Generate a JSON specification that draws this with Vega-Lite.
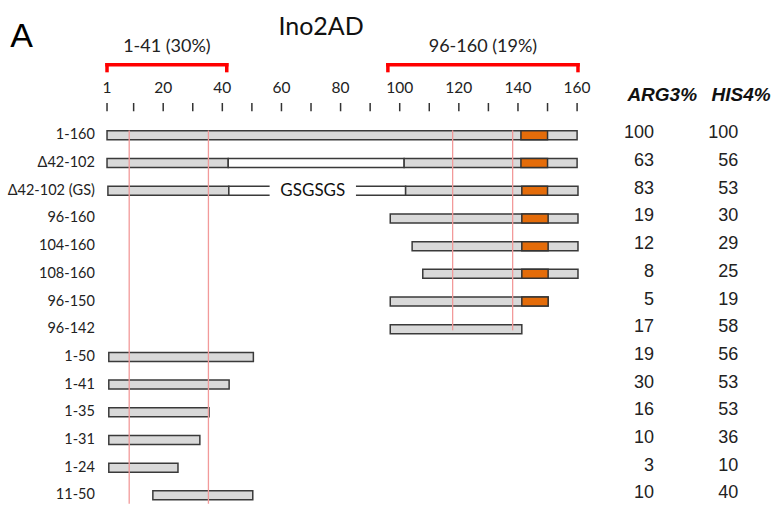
{
  "$schema": "https://vega.github.io/schema/vega-lite/v6.json",
  "width": 774,
  "height": 505,
  "autosize": {"type": "fit", "contains": "padding"},
  "padding": 0,
  "background": "white",
  "config": {"view": {"stroke": null}},
  "datasets": {
    "constructs": [
      {"row": 0, "label": "1-160", "arg3": 100, "his4": 100},
      {"row": 1, "label": "Δ42-102", "arg3": 63, "his4": 56},
      {"row": 2, "label": "Δ42-102 (GS)", "arg3": 83, "his4": 53},
      {"row": 3, "label": "96-160", "arg3": 19, "his4": 30},
      {"row": 4, "label": "104-160", "arg3": 12, "his4": 29},
      {"row": 5, "label": "108-160", "arg3": 8, "his4": 25},
      {"row": 6, "label": "96-150", "arg3": 5, "his4": 19},
      {"row": 7, "label": "96-142", "arg3": 17, "his4": 58},
      {"row": 8, "label": "1-50", "arg3": 19, "his4": 56},
      {"row": 9, "label": "1-41", "arg3": 30, "his4": 53},
      {"row": 10, "label": "1-35", "arg3": 16, "his4": 53},
      {"row": 11, "label": "1-31", "arg3": 10, "his4": 36},
      {"row": 12, "label": "1-24", "arg3": 3, "his4": 10},
      {"row": 13, "label": "11-50", "arg3": 10, "his4": 40}
    ],
    "segments": [
      {"row": 0, "start": 1, "end": 160, "kind": "gray"},
      {"row": 0, "start": 141, "end": 150, "kind": "tad"},
      {"row": 1, "start": 1, "end": 42, "kind": "gray"},
      {"row": 1, "start": 42, "end": 101.5, "kind": "white"},
      {"row": 1, "start": 101.5, "end": 160, "kind": "gray"},
      {"row": 1, "start": 141, "end": 150, "kind": "tad"},
      {"row": 2, "start": 1.3, "end": 42.2, "kind": "gray"},
      {"row": 2, "start": 42.2, "end": 102, "kind": "white"},
      {"row": 2, "start": 56, "end": 85.2, "kind": "mask"},
      {"row": 2, "start": 102, "end": 160.3, "kind": "gray"},
      {"row": 2, "start": 141.3, "end": 150, "kind": "tad"},
      {"row": 3, "start": 96.8, "end": 160.3, "kind": "gray"},
      {"row": 3, "start": 141.3, "end": 150.2, "kind": "tad"},
      {"row": 4, "start": 104.2, "end": 160.3, "kind": "gray"},
      {"row": 4, "start": 141.3, "end": 150.2, "kind": "tad"},
      {"row": 5, "start": 107.8, "end": 160.3, "kind": "gray"},
      {"row": 5, "start": 141.3, "end": 150.2, "kind": "tad"},
      {"row": 6, "start": 96.8, "end": 150.2, "kind": "gray"},
      {"row": 6, "start": 141.3, "end": 150.2, "kind": "tad"},
      {"row": 7, "start": 96.8, "end": 141.3, "kind": "gray"},
      {"row": 8, "start": 1.6, "end": 50.5, "kind": "gray"},
      {"row": 9, "start": 1.6, "end": 42.3, "kind": "gray"},
      {"row": 10, "start": 1.6, "end": 35.5, "kind": "gray"},
      {"row": 11, "start": 1.6, "end": 32.4, "kind": "gray"},
      {"row": 12, "start": 1.6, "end": 25, "kind": "gray"},
      {"row": 13, "start": 16.5, "end": 50.3, "kind": "gray"}
    ],
    "guides": [
      {"pos": 8.5, "fromRow": -0.18, "toRow": 13.3},
      {"pos": 35.3, "fromRow": -0.18, "toRow": 13.3},
      {"pos": 117.9, "fromRow": -0.18, "toRow": 7.04},
      {"pos": 138.2, "fromRow": -0.18, "toRow": 7.04}
    ],
    "ticks": [
      {"v": 1}, {"v": 10}, {"v": 20}, {"v": 30}, {"v": 40}, {"v": 50}, {"v": 60}, {"v": 70}, {"v": 80},
      {"v": 90}, {"v": 100}, {"v": 110}, {"v": 120}, {"v": 130}, {"v": 140}, {"v": 150}, {"v": 160}
    ],
    "ticklabels": [
      {"v": 1}, {"v": 20}, {"v": 40}, {"v": 60}, {"v": 80}, {"v": 100}, {"v": 120}, {"v": 140}, {"v": 160}
    ],
    "brackets": [
      {"label": "1-41 (30%)", "start": 1, "end": 41.5},
      {"label": "96-160 (19%)", "start": 96, "end": 160.3}
    ],
    "one": [{}]
  },
  "layer": [
    {
      "data": {"name": "segments"},
      "transform": [{"filter": "datum.kind == 'gray' || datum.kind == 'white'"}],
      "mark": {"type": "bar", "size": 9, "stroke": "#3a3a3a", "strokeWidth": 1.5},
      "encoding": {
        "x": {"field": "start", "type": "quantitative", "scale": {"domain": [-35.2, 226.6], "nice": false, "zero": false}, "axis": null},
        "x2": {"field": "end"},
        "y": {"field": "row", "type": "quantitative", "scale": {"domain": [-4.708, 13.168], "nice": false, "zero": false, "reverse": true}, "axis": null},
        "color": {"field": "kind", "type": "nominal", "scale": {"domain": ["gray", "white"], "range": ["#d9d9d9", "#ffffff"]}, "legend": null}
      }
    },
    {
      "data": {"name": "segments"},
      "transform": [{"filter": "datum.kind == 'mask'"}],
      "mark": {"type": "bar", "size": 14, "color": "#ffffff"},
      "encoding": {
        "x": {"field": "start", "type": "quantitative"},
        "x2": {"field": "end"},
        "y": {"field": "row", "type": "quantitative"}
      }
    },
    {
      "data": {"name": "segments"},
      "transform": [{"filter": "datum.kind == 'tad'"}],
      "mark": {"type": "bar", "size": 9, "color": "#e46c0a", "stroke": "#333333", "strokeWidth": 1.5},
      "encoding": {
        "x": {"field": "start", "type": "quantitative"},
        "x2": {"field": "end"},
        "y": {"field": "row", "type": "quantitative"}
      }
    },
    {
      "data": {"name": "guides"},
      "mark": {"type": "rule", "color": "#f29a9a", "strokeWidth": 1.3},
      "encoding": {
        "x": {"field": "pos", "type": "quantitative"},
        "y": {"field": "fromRow", "type": "quantitative"},
        "y2": {"field": "toRow"}
      }
    },
    {
      "data": {"name": "ticks"},
      "mark": {"type": "rule", "color": "#333333", "strokeWidth": 1.5},
      "encoding": {
        "x": {"field": "v", "type": "quantitative"},
        "y": {"datum": -1.17},
        "y2": {"datum": -0.87}
      }
    },
    {
      "data": {"name": "ticklabels"},
      "mark": {"type": "text", "font": "Lato", "fontSize": 15.5, "color": "#222222", "baseline": "middle", "align": "center"},
      "encoding": {
        "x": {"field": "v", "type": "quantitative"},
        "y": {"datum": -1.70},
        "text": {"field": "v", "type": "quantitative"}
      }
    },
    {
      "data": {"name": "brackets"},
      "mark": {"type": "rule", "color": "#ff0000", "strokeWidth": 3.5, "strokeCap": "square"},
      "encoding": {
        "x": {"field": "start", "type": "quantitative"},
        "x2": {"field": "end"},
        "y": {"datum": -2.55}
      }
    },
    {
      "data": {"name": "brackets"},
      "transform": [{"fold": ["start", "end"], "as": ["side", "value"]}],
      "mark": {"type": "rule", "color": "#ff0000", "strokeWidth": 3.5, "strokeCap": "square"},
      "encoding": {
        "x": {"field": "value", "type": "quantitative"},
        "y": {"datum": -2.55},
        "y2": {"datum": -2.34}
      }
    },
    {
      "data": {"name": "brackets"},
      "transform": [{"fold": ["start", "end"], "as": ["side", "value"]}],
      "mark": {"type": "text", "font": "Lato", "fontSize": 18, "color": "#222222", "baseline": "middle", "align": "center"},
      "encoding": {
        "x": {"field": "value", "type": "quantitative", "aggregate": "mean"},
        "y": {"datum": -3.19},
        "text": {"field": "label", "type": "nominal"}
      }
    },
    {
      "data": {"name": "constructs"},
      "mark": {"type": "text", "font": "Lato", "fontSize": 14.5, "color": "#222222", "baseline": "middle", "align": "right"},
      "encoding": {
        "x": {"datum": -3.1},
        "y": {"field": "row", "type": "quantitative"},
        "text": {"field": "label", "type": "nominal"}
      }
    },
    {
      "data": {"name": "constructs"},
      "mark": {"type": "text", "font": "Liberation Sans", "fontSize": 18, "color": "#222222", "baseline": "middle", "align": "right", "dy": -2},
      "encoding": {
        "x": {"datum": 186},
        "y": {"field": "row", "type": "quantitative"},
        "text": {"field": "arg3", "type": "quantitative"}
      }
    },
    {
      "data": {"name": "constructs"},
      "mark": {"type": "text", "font": "Liberation Sans", "fontSize": 18, "color": "#222222", "baseline": "middle", "align": "right", "dy": -2},
      "encoding": {
        "x": {"datum": 214.5},
        "y": {"field": "row", "type": "quantitative"},
        "text": {"field": "his4", "type": "quantitative"}
      }
    },
    {
      "data": {"name": "one"},
      "mark": {"type": "text", "text": "ARG3%", "font": "Liberation Sans", "fontSize": 19, "fontWeight": "bold", "fontStyle": "italic", "color": "#111111", "baseline": "middle", "align": "center"},
      "encoding": {"x": {"datum": 188.8}, "y": {"datum": -1.45}}
    },
    {
      "data": {"name": "one"},
      "mark": {"type": "text", "text": "HIS4%", "font": "Liberation Sans", "fontSize": 19, "fontWeight": "bold", "fontStyle": "italic", "color": "#111111", "baseline": "middle", "align": "center"},
      "encoding": {"x": {"datum": 215.5}, "y": {"datum": -1.45}}
    },
    {
      "data": {"name": "one"},
      "mark": {"type": "text", "text": "Ino2AD", "font": "Lato", "fontSize": 25, "color": "#111111", "baseline": "middle", "align": "center"},
      "encoding": {"x": {"datum": 73.4}, "y": {"datum": -3.9}}
    },
    {
      "data": {"name": "one"},
      "mark": {"type": "text", "text": "A", "font": "Liberation Sans", "fontSize": 34, "color": "#000000", "baseline": "middle", "align": "center"},
      "encoding": {"x": {"datum": -27.9}, "y": {"datum": -3.55}}
    },
    {
      "data": {"name": "one"},
      "mark": {"type": "text", "text": "GSGSGS", "font": "Lato", "fontSize": 17, "color": "#111111", "baseline": "middle", "align": "center"},
      "encoding": {"x": {"datum": 70.6}, "y": {"datum": 2}}
    }
  ]
}
